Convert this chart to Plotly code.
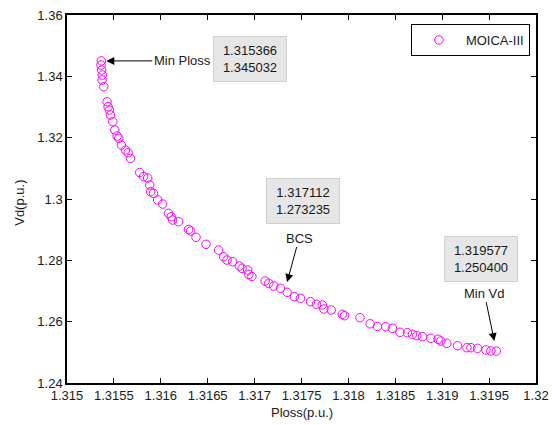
import plotly.graph_objects as go

# Pareto front (Ploss, Vd)
ploss = [1.315366, 1.315363, 1.315370, 1.315376, 1.315374, 1.315392, 1.315427, 1.315438,
         1.315452, 1.315463, 1.315488, 1.315510, 1.315534, 1.315552, 1.315580, 1.315623,
         1.315652, 1.315676, 1.315775, 1.315817, 1.315860, 1.315881, 1.315892, 1.315922,
         1.315967, 1.316020, 1.316082, 1.316111, 1.316125, 1.316189, 1.316296, 1.316319,
         1.316375, 1.316482, 1.316616, 1.316670, 1.316706, 1.316766, 1.316838, 1.316866,
         1.316926, 1.316939, 1.316971, 1.317112, 1.317151, 1.317204, 1.317276, 1.317347,
         1.317425, 1.317489, 1.317596, 1.317660, 1.317721, 1.317738, 1.317817, 1.317935,
         1.317959, 1.318123, 1.318232, 1.318309, 1.318397, 1.318469, 1.318550, 1.318629,
         1.318683, 1.318729, 1.318790, 1.318878, 1.318956, 1.318985, 1.319049, 1.319163,
         1.319263, 1.319306, 1.319377, 1.319466, 1.319519, 1.319577]
vd = [1.345032, 1.34368, 1.34205, 1.34042, 1.33879, 1.33661, 1.33172, 1.33009,
      1.32901, 1.32738, 1.32520, 1.32249, 1.32053, 1.31979, 1.31760, 1.31597,
      1.31509, 1.31326, 1.30863, 1.30733, 1.30684, 1.30456, 1.30237, 1.30185,
      1.29967, 1.29836, 1.29533, 1.29422, 1.29315, 1.29259, 1.29005, 1.28956,
      1.28751, 1.28522, 1.28336, 1.28118, 1.28010, 1.27955, 1.27815, 1.27740,
      1.27684, 1.27538, 1.27472, 1.273235, 1.27251, 1.27163, 1.27088, 1.26957,
      1.26814, 1.26762, 1.26651, 1.26566, 1.26543, 1.26413, 1.26380, 1.26240,
      1.26194, 1.26129, 1.25930, 1.25842, 1.25836, 1.25784, 1.25653, 1.25640,
      1.25588, 1.25542, 1.25510, 1.25457, 1.25425, 1.25369, 1.25294, 1.25216,
      1.25151, 1.25151, 1.25131, 1.25076, 1.25043, 1.250400]

series_name = "MOICA-III"
x_title = "Ploss(p.u.)"
y_title = "Vd(p.u.)"

# Highlighted solutions
mark_labels = ["Min Ploss", "BCS", "Min Vd"]
mark_ploss = [1.315366, 1.317112, 1.319577]
mark_vd = [1.345032, 1.273235, 1.250400]

x_ticks = [1.315, 1.3155, 1.316, 1.3165, 1.317, 1.3175, 1.318, 1.3185, 1.319, 1.3195, 1.32]
x_tick_text = ["1.315", "1.3155", "1.316", "1.3165", "1.317", "1.3175", "1.318",
               "1.3185", "1.319", "1.3195", "1.32"]
y_ticks = [1.24, 1.26, 1.28, 1.30, 1.32, 1.34, 1.36]
y_tick_text = ["1.24", "1.26", "1.28", "1.3", "1.32", "1.34", "1.36"]

FONT = "Liberation Sans, Arial, sans-serif"
TXT = "#1a1a1a"

fig = go.Figure()
fig.add_trace(go.Scatter(
    x=ploss, y=vd, mode="markers", name=series_name,
    marker=dict(symbol="circle-open", size=8.5, color="#ff00ff",
                line=dict(width=1, color="#ff00ff")),
))

# label/arrow settings (pixel offsets)
arrow_cfg = [
    dict(ax=81, ay=0, xshift=0, yshift=0, standoff=5),
    dict(ax=12, ay=-44, xshift=22, yshift=-1, standoff=0),
    dict(ax=-10, ay=-48, xshift=-2, yshift=10, standoff=0),
]
box_cfg = [
    dict(xshift=149, yshift=2),
    dict(xshift=38, yshift=80),
    dict(xshift=-15, yshift=92),
]

annotations = []
for lab, px, py, ac, bc in zip(mark_labels, mark_ploss, mark_vd, arrow_cfg, box_cfg):
    annotations.append(dict(
        x=px, y=py, xref="x", yref="y", text=lab, showarrow=True,
        arrowhead=2, arrowsize=1.6, arrowwidth=1, arrowcolor="black",
        ax=ac["ax"], ay=ac["ay"], xshift=ac["xshift"], yshift=ac["yshift"],
        standoff=ac["standoff"],
        font=dict(family=FONT, size=13, color=TXT),
    ))
    annotations.append(dict(
        x=px, y=py, xref="x", yref="y", showarrow=False,
        text=f"{px:.6f}<br>{py:.6f}",
        xshift=bc["xshift"], yshift=bc["yshift"],
        bgcolor="#e6e6e6", bordercolor="#d0d0d0", borderwidth=1, borderpad=5,
        width=62, height=34,
        font=dict(family=FONT, size=13, color=TXT),
    ))

# axis titles
annotations.append(dict(x=0.5, y=-0.0815, xref="paper", yref="paper", showarrow=False,
                        text=x_title, xanchor="center", yanchor="middle",
                        font=dict(family=FONT, size=13, color=TXT)))
annotations.append(dict(x=-0.1, y=0.49, xref="paper", yref="paper", showarrow=False,
                        text=y_title, textangle=-90, xanchor="center", yanchor="middle",
                        font=dict(family=FONT, size=13, color=TXT)))

axis_common = dict(
    showline=True, linecolor="black", linewidth=1.5, mirror="ticks",
    ticks="inside", ticklen=5, tickwidth=1, tickcolor="black",
    showgrid=False, zeroline=False, automargin=False,
    tickfont=dict(family=FONT, size=13, color=TXT),
)

fig.update_layout(
    width=556, height=425,
    margin=dict(l=67, r=20, t=15, b=42),
    paper_bgcolor="white", plot_bgcolor="white",
    font=dict(family=FONT, size=13, color=TXT),
    xaxis=dict(range=[1.315, 1.32], tickvals=x_ticks, ticktext=x_tick_text,
               **axis_common),
    yaxis=dict(range=[1.24, 1.36], tickvals=y_ticks, ticktext=y_tick_text,
               **axis_common),
    showlegend=True,
    legend=dict(x=0.987, y=0.9755, xanchor="right", yanchor="top",
                bgcolor="white", bordercolor="black", borderwidth=1,
                itemwidth=44,
                font=dict(family=FONT, size=13, color=TXT)),
    annotations=annotations,
)

fig.write_html("out.html")
